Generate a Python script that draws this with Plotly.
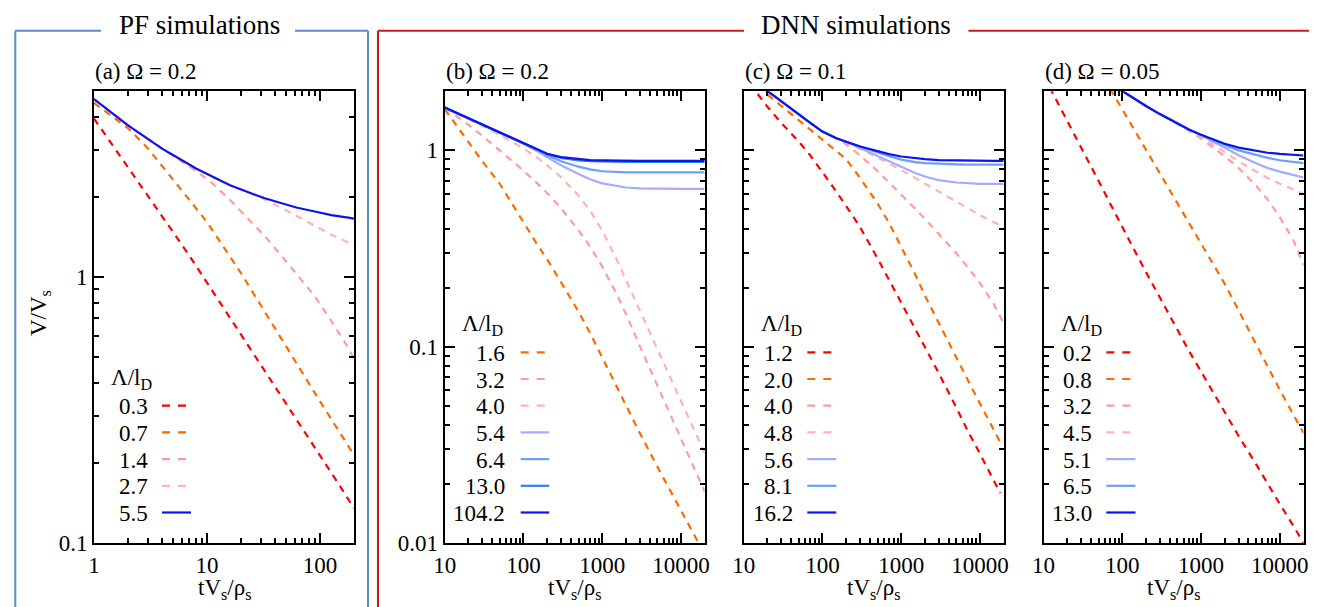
import plotly.graph_objects as go

W, H = 1317, 607
FONT = "Liberation Serif, Times New Roman, Times, serif"

# ---------------- data : panel (a)  PF, Omega = 0.2 ----------------
A_T_03 = [1, 1.5, 2, 3, 5, 7, 10, 15, 20, 30, 50, 70, 100, 150, 200]
A_V_03 = [3.95, 3.09, 2.57, 2.02, 1.479, 1.202, 0.955, 0.733, 0.610, 0.468, 0.335, 0.269, 0.214, 0.164, 0.135]
A_T_07 = [1, 1.5, 2, 3, 5, 7, 10, 15, 20, 30, 50, 70, 100, 150, 200]
A_V_07 = [4.52, 3.98, 3.63, 3.05, 2.34, 1.95, 1.61, 1.245, 1.035, 0.782, 0.547, 0.435, 0.341, 0.260, 0.214]
A_T = [1, 1.4, 2, 2.8, 4, 5.6, 8, 11, 16, 22, 32, 45, 63, 90, 126, 178, 200]
A_V_14 = [4.677, 4.186, 3.721, 3.376, 3.044, 2.773, 2.512, 2.265, 1.950, 1.690, 1.435, 1.211, 1.021, 0.847, 0.684, 0.543, 0.490]
A_V_27 = [4.677, 4.186, 3.721, 3.376, 3.044, 2.799, 2.561, 2.396, 2.215, 2.105, 1.963, 1.828, 1.690, 1.560, 1.445, 1.349, 1.321]
A_V_55 = [4.677, 4.186, 3.721, 3.376, 3.044, 2.799, 2.561, 2.396, 2.215, 2.105, 1.983, 1.900, 1.823, 1.765, 1.712, 1.674, 1.661]
A_LABELS = ["0.3", "0.7", "1.4", "2.7", "5.5"]

# ---------------- data : panel (b)  DNN, Omega = 0.2 ----------------
B_T = [10, 20, 30, 50, 70, 100, 150, 200, 300, 500, 700, 1000, 1500, 2000, 3000, 5000, 7000, 10000, 15000, 20000]
B_T_16 = [10, 20, 30, 50, 70, 100, 150, 200, 300, 500, 700, 1000, 1500, 2000, 3000, 5000, 7000, 10000, 15000, 17800]
B_V_16 = [1.622, 1.109, 0.881, 0.676, 0.543, 0.427, 0.331, 0.279, 0.214, 0.151, 0.1175, 0.0881, 0.0631, 0.0501,
          0.0363, 0.0245, 0.0191, 0.0146, 0.01084, 0.00955]
B_V_32 = [1.652, 1.351, 1.187, 1.003, 0.894, 0.789, 0.679, 0.606, 0.507, 0.392, 0.324, 0.256, 0.188, 0.1468,
          0.1007, 0.0636, 0.0470, 0.0341, 0.0237, 0.01826]
B_V_40 = [1.652, 1.448, 1.335, 1.200, 1.114, 1.023, 0.917, 0.841, 0.730, 0.589, 0.494, 0.390, 0.282, 0.218,
          0.1526, 0.0973, 0.0724, 0.0529, 0.0370, 0.0287]
B_V_54 = [1.652, 1.458, 1.355, 1.235, 1.163, 1.081, 0.989, 0.925, 0.841, 0.759, 0.713, 0.679, 0.658, 0.647,
          0.640, 0.637, 0.637, 0.637, 0.637, 0.637]
B_V_64 = [1.652, 1.458, 1.355, 1.235, 1.163, 1.090, 1.009, 0.944, 0.881, 0.826, 0.800, 0.783, 0.776, 0.773,
          0.772, 0.772, 0.772, 0.772, 0.772, 0.772]
B_V_130 = [1.652, 1.458, 1.355, 1.235, 1.163, 1.090, 1.013, 0.957, 0.916, 0.889, 0.881, 0.877, 0.875, 0.875,
           0.875, 0.875, 0.875, 0.875, 0.875, 0.875]
B_V_1042 = [1.652, 1.458, 1.355, 1.235, 1.163, 1.090, 1.013, 0.962, 0.925, 0.902, 0.893, 0.889, 0.886, 0.885,
            0.885, 0.885, 0.885, 0.885, 0.885, 0.885]
B_LABELS = ["1.6", "3.2", "4.0", "5.4", "6.4", "13.0", "104.2"]

# ---------------- data : panel (c)  DNN, Omega = 0.1 ----------------
C_T_12 = [12, 15, 20, 30, 50, 70, 100, 150, 200, 300, 500, 700, 1000, 1500, 2000, 3000, 5000, 7000, 10000, 15000, 18000]
C_V_12 = [2.188, 1.950, 1.667, 1.380, 1.109, 0.944, 0.776, 0.617, 0.520, 0.407, 0.282, 0.219, 0.169, 0.1245,
          0.100, 0.0733, 0.0490, 0.0372, 0.0285, 0.0209, 0.0180]
C_T_20 = [15, 20, 30, 50, 70, 100, 150, 200, 300, 500, 700, 1000, 1500, 2000, 3000, 5000, 7000, 10000, 15000, 18000]
C_V_20 = [2.118, 1.928, 1.683, 1.422, 1.274, 1.140, 1.0, 0.902, 0.724, 0.537, 0.427, 0.324, 0.234, 0.182,
          0.132, 0.0871, 0.0676, 0.0513, 0.0380, 0.0327]
C_T = [15, 20, 30, 50, 70, 100, 150, 200, 300, 500, 700, 1000, 1500, 2000, 3000, 5000, 7000, 10000, 15000, 20000]
C_V_40 = [2.188, 2.004, 1.778, 1.524, 1.380, 1.247, 1.153, 1.074, 0.943, 0.785, 0.688, 0.597, 0.505, 0.448,
          0.376, 0.299, 0.254, 0.2104, 0.165, 0.131]
C_V_48 = [2.188, 2.004, 1.778, 1.524, 1.380, 1.247, 1.153, 1.096, 1.019, 0.923, 0.859, 0.794, 0.724, 0.679,
          0.617, 0.547, 0.507, 0.468, 0.431, 0.407]
C_V_56 = [2.188, 2.004, 1.778, 1.524, 1.380, 1.247, 1.153, 1.107, 1.028, 0.938, 0.881, 0.822, 0.767, 0.736,
          0.705, 0.686, 0.679, 0.676, 0.676, 0.676]
C_V_81 = [2.188, 2.004, 1.778, 1.524, 1.380, 1.247, 1.153, 1.107, 1.047, 0.977, 0.933, 0.898, 0.871, 0.861,
          0.853, 0.849, 0.847, 0.847, 0.847, 0.847]
C_V_162 = [2.188, 2.004, 1.778, 1.524, 1.380, 1.247, 1.153, 1.107, 1.047, 0.991, 0.957, 0.931, 0.912, 0.902,
           0.893, 0.889, 0.885, 0.885, 0.885, 0.885]
C_LABELS = ["1.2", "2.0", "4.0", "4.8", "5.6", "8.1", "16.2"]

# ---------------- data : panel (d)  DNN, Omega = 0.05 ----------------
D_T_02 = [12, 20, 30, 50, 70, 100, 150, 200, 300, 500, 700, 1000, 1500, 2000, 3000, 5000, 7000, 10000, 15000, 20000]
D_V_02 = [2.089, 1.413, 1.047, 0.700, 0.537, 0.405, 0.2985, 0.240, 0.178, 0.121, 0.0955, 0.0748, 0.0565, 0.0463,
          0.0351, 0.0252, 0.0200, 0.0158, 0.01216, 0.0100]
D_T_08 = [70, 100, 150, 200, 300, 500, 700, 1000, 1500, 2000, 3000, 5000, 7000, 10000, 15000, 20000]
D_V_08 = [2.065, 1.618, 1.216, 1.007, 0.762, 0.535, 0.422, 0.331, 0.254, 0.209, 0.153, 0.102, 0.0794, 0.0603,
          0.0452, 0.0363]
D_T = [90, 100, 150, 200, 300, 500, 700, 1000, 1500, 2000, 3000, 5000, 7000, 10000, 15000, 20000]
D_V_32 = [2.061, 2.004, 1.807, 1.683, 1.531, 1.365, 1.259, 1.153, 1.023, 0.933, 0.813, 0.661, 0.562, 0.457,
          0.347, 0.260]
D_V_45 = [2.061, 2.004, 1.807, 1.683, 1.531, 1.371, 1.274, 1.180, 1.059, 0.977, 0.881, 0.780, 0.724, 0.676,
          0.631, 0.600]
D_V_51 = [2.061, 2.004, 1.807, 1.683, 1.531, 1.371, 1.279, 1.189, 1.096, 1.030, 0.944, 0.861, 0.813, 0.780,
          0.750, 0.728]
D_V_65 = [2.061, 2.004, 1.807, 1.683, 1.531, 1.371, 1.279, 1.202, 1.117, 1.062, 1.0, 0.944, 0.916, 0.891,
          0.873, 0.861]
D_V_130 = [2.061, 2.004, 1.807, 1.683, 1.531, 1.371, 1.279, 1.202, 1.127, 1.081, 1.033, 0.991, 0.973, 0.959,
           0.948, 0.942]
D_LABELS = ["0.2", "0.8", "3.2", "4.5", "5.1", "6.5", "13.0"]

# tick values
A_XTICKS = [1, 10, 100]
A_YTICKS = [0.1, 1]
DNN_XTICKS = [10, 100, 1000, 10000]
DNN_YTICKS = [0.01, 0.1, 1]

# ---------------- styles ----------------
RED = "#ff0000"
ORANGE = "#ff6a00"
PINK1 = "#ff9c9c"
PINK2 = "#ffb2b2"
LAV = "#a3aaff"
MBLUE = "#6e9dff"
ABLUE = "#2c7dff"
DBLUE = "#0a14ee"
DASH = "7px,6px"

panels = [
    dict(xa="x", ya="y", left=86.0, title="(a) Ω = 0.2",
         xr=[0, 2.30103], yr=[-1, 0.69897], xt=A_XTICKS, yt=A_YTICKS, ylab=True,
         lab_off=55.7, s0=68, s1=97, head_y=371,
         series=[(A_T_03, A_V_03, A_LABELS[0], RED, True),
                 (A_T_07, A_V_07, A_LABELS[1], ORANGE, True),
                 (A_T, A_V_14, A_LABELS[2], PINK1, True),
                 (A_T, A_V_27, A_LABELS[3], PINK2, True),
                 (A_T, A_V_55, A_LABELS[4], DBLUE, False)]),
    dict(xa="x2", ya="y2", left=436.7, title="(b) Ω = 0.2",
         xr=[1, 4.30103], yr=[-2, 0.30103], xt=DNN_XTICKS, yt=DNN_YTICKS, ylab=True,
         lab_off=62.5, s0=76, s1=104.5, head_y=317,
         series=[(B_T_16, B_V_16, B_LABELS[0], ORANGE, True),
                 (B_T, B_V_32, B_LABELS[1], PINK1, True),
                 (B_T, B_V_40, B_LABELS[2], PINK2, True),
                 (B_T, B_V_54, B_LABELS[3], LAV, False),
                 (B_T, B_V_64, B_LABELS[4], MBLUE, False),
                 (B_T, B_V_130, B_LABELS[5], ABLUE, False),
                 (B_T, B_V_1042, B_LABELS[6], DBLUE, False)]),
    dict(xa="x3", ya="y3", left=735.7, title="(c) Ω = 0.1",
         xr=[1, 4.30103], yr=[-2, 0.30103], xt=DNN_XTICKS, yt=DNN_YTICKS, ylab=False,
         lab_off=51, s0=63.6, s1=92.6, head_y=317,
         series=[(C_T_12, C_V_12, C_LABELS[0], RED, True),
                 (C_T_20, C_V_20, C_LABELS[1], ORANGE, True),
                 (C_T, C_V_40, C_LABELS[2], PINK1, True),
                 (C_T, C_V_48, C_LABELS[3], PINK2, True),
                 (C_T, C_V_56, C_LABELS[4], LAV, False),
                 (C_T, C_V_81, C_LABELS[5], MBLUE, False),
                 (C_T, C_V_162, C_LABELS[6], DBLUE, False)]),
    dict(xa="x4", ya="y4", left=1035.5, title="(d) Ω = 0.05",
         xr=[1, 4.30103], yr=[-2, 0.30103], xt=DNN_XTICKS, yt=DNN_YTICKS, ylab=False,
         lab_off=50.5, s0=62.8, s1=92, head_y=317,
         series=[(D_T_02, D_V_02, D_LABELS[0], RED, True),
                 (D_T_08, D_V_08, D_LABELS[1], ORANGE, True),
                 (D_T, D_V_32, D_LABELS[2], PINK1, True),
                 (D_T, D_V_45, D_LABELS[3], PINK2, True),
                 (D_T, D_V_51, D_LABELS[4], LAV, False),
                 (D_T, D_V_65, D_LABELS[5], MBLUE, False),
                 (D_T, D_V_130, D_LABELS[6], DBLUE, False)]),
]

BOX_W = 260.0
BOX_TOP = 83.3
BOX_BOT = 535.0
ROW = 26.7
LAST_ROW_Y = 505.5
TXT = 23


def px(xp):
    return xp / W


def py(yp):
    return 1 - yp / H


def minor_vals(lo_exp, hi_exp):
    vals = []
    for e in range(lo_exp, hi_exp + 1):
        for m in range(2, 10):
            vals.append(m * 10 ** e)
    return vals


def tfont(size=TXT):
    return dict(family=FONT, size=size, color="black")


fig = go.Figure()
annotations = []
shapes = []
layout_axes = {}

for p in panels:
    for (t, v, lab, col, dashed) in p["series"]:
        fig.add_trace(go.Scatter(
            x=t, y=v, mode="lines", xaxis=p["xa"], yaxis=p["ya"], showlegend=False,
            line=dict(color=col, width=2.2, dash=DASH if dashed else "solid"),
            hoverinfo="skip"))

    xkey = "xaxis" + p["xa"][1:]
    ykey = "yaxis" + p["ya"][1:]
    common = dict(type="log", showline=True, linecolor="black", linewidth=2,
                  mirror="ticks", ticks="inside", ticklen=10, tickwidth=1.5,
                  tickcolor="black", showgrid=False, zeroline=False,
                  automargin=False, tickfont=tfont())
    layout_axes[xkey] = dict(
        common, range=p["xr"], anchor=p["ya"],
        domain=[px(p["left"]), px(p["left"] + BOX_W)],
        tickvals=p["xt"], ticktext=[str(v) for v in p["xt"]],
        minor=dict(ticks="inside", ticklen=5, tickwidth=1.5, tickcolor="black",
                   tickvals=minor_vals(0, 4), showgrid=False))
    layout_axes[ykey] = dict(
        common, range=p["yr"], anchor=p["xa"],
        domain=[py(BOX_BOT), py(BOX_TOP)],
        tickvals=p["yt"], ticktext=[("%g" % v) for v in p["yt"]],
        showticklabels=p["ylab"],
        minor=dict(ticks="inside", ticklen=5, tickwidth=1.5, tickcolor="black",
                   tickvals=minor_vals(-2, 0), showgrid=False))

    annotations.append(dict(text=p["title"], x=px(p["left"] - 1), y=py(63),
                            xref="paper", yref="paper", xanchor="left", yanchor="middle",
                            showarrow=False, font=tfont()))
    annotations.append(dict(text="tV<sub>s</sub>/ρ<sub>s</sub>", x=px(p["left"] + BOX_W / 2),
                            y=py(581), xref="paper", yref="paper", xanchor="center",
                            yanchor="middle", showarrow=False, font=tfont()))
    annotations.append(dict(text="Λ/l<sub>D</sub>", x=px(p["left"] + 15), y=py(p["head_y"]),
                            xref="paper", yref="paper", xanchor="left", yanchor="middle",
                            showarrow=False, font=tfont()))
    n = len(p["series"])
    for i, (t, v, lab, col, dashed) in enumerate(p["series"]):
        yy = LAST_ROW_Y - (n - 1 - i) * ROW
        annotations.append(dict(text=lab, x=px(p["left"] + p["lab_off"]), y=py(yy),
                                xref="paper", yref="paper", xanchor="right", yanchor="middle",
                                showarrow=False, font=tfont()))
        shapes.append(dict(type="line", xref="paper", yref="paper",
                           x0=px(p["left"] + p["s0"]),
                           x1=px(p["left"] + (p["s1"] - 4 if dashed else p["s1"])),
                           y0=py(yy - 1), y1=py(yy - 1),
                           line=dict(color=col, width=2.2, dash="8px,8px" if dashed else "solid")))

annotations.append(dict(text="V/V<sub>s</sub>", x=px(32), y=py(305), xref="paper", yref="paper",
                        xanchor="center", yanchor="middle", textangle=-90, showarrow=False,
                        font=tfont()))

FRAME_TOP = 22.7
PF_COL = "#5b8ac8"
DNN_COL = "#d01818"
for (x0, x1, col) in [(7.3, 93, PF_COL), (287, 360, PF_COL), (370, 736, DNN_COL), (960.5, 1311, DNN_COL)]:
    shapes.append(dict(type="line", xref="paper", yref="paper", x0=px(x0), x1=px(x1),
                       y0=py(FRAME_TOP), y1=py(FRAME_TOP), line=dict(color=col, width=2)))
for (xx, col) in [(7.3, PF_COL), (360, PF_COL), (370, DNN_COL), (1311, DNN_COL)]:
    shapes.append(dict(type="line", xref="paper", yref="paper", x0=px(xx), x1=px(xx),
                       y0=py(FRAME_TOP), y1=-0.05, line=dict(color=col, width=2)))
annotations.append(dict(text="PF simulations", x=px(191), y=py(17), xref="paper", yref="paper",
                        xanchor="center", yanchor="middle", showarrow=False, font=tfont(27)))
annotations.append(dict(text="DNN simulations", x=px(848), y=py(17), xref="paper", yref="paper",
                        xanchor="center", yanchor="middle", showarrow=False, font=tfont(27)))

fig.update_layout(
    width=W, height=H, margin=dict(l=0, r=0, t=0, b=0),
    paper_bgcolor="white", plot_bgcolor="white",
    font=dict(family=FONT),
    annotations=annotations, shapes=shapes, showlegend=False,
    **layout_axes)

fig.write_html("out.html")
